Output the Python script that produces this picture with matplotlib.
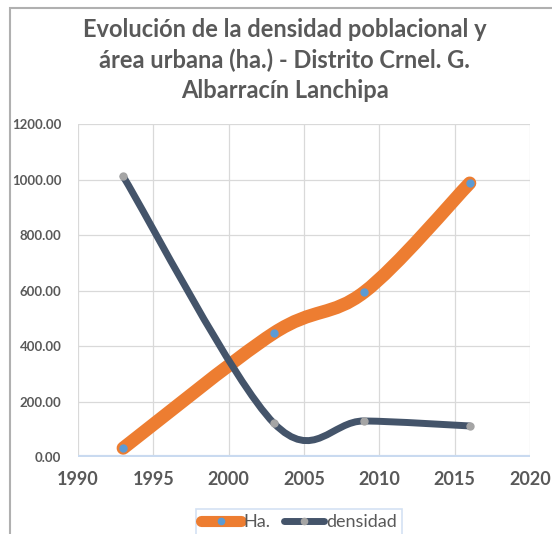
import matplotlib
matplotlib.use("Agg")
import matplotlib.pyplot as plt
from matplotlib.path import Path
from matplotlib.patches import PathPatch, Rectangle
from matplotlib.lines import Line2D
from matplotlib.ticker import FormatStrFormatter

plt.rcParams['font.family'] = ['Lato', 'DejaVu Sans']

years = [1993, 2003, 2009, 2016]
ha = [32, 447, 595, 988]
densidad = [1012, 122, 130, 112]

x_ticks = [1990, 1995, 2000, 2005, 2010, 2015, 2020]
y_ticks = [0, 200, 400, 600, 800, 1000, 1200]

title = "Evolución de la densidad poblacional y\nárea urbana (ha.) - Distrito Crnel. G.\nAlbarracín Lanchipa"

orange = '#ed7d31'
navy = '#44546a'
blue = '#5b9bd5'
grey = '#a5a5a5'
text_grey = '#595959'


def smooth_path(xs, ys):
    # Excel style smoothed line: catmull-rom converted to cubic bezier
    pts = list(zip(xs, ys))
    n = len(pts)
    verts = [pts[0]]
    codes = [Path.MOVETO]
    for i in range(n - 1):
        p0 = pts[max(i - 1, 0)]
        p1 = pts[i]
        p2 = pts[i + 1]
        p3 = pts[min(i + 2, n - 1)]
        c1 = (p1[0] + (p2[0] - p0[0]) / 6, p1[1] + (p2[1] - p0[1]) / 6)
        c2 = (p2[0] - (p3[0] - p1[0]) / 6, p2[1] - (p3[1] - p1[1]) / 6)
        verts += [c1, c2, p2]
        codes += [Path.CURVE4] * 3
    return Path(verts, codes)


fig = plt.figure(figsize=(5.52, 5.34), dpi=100)
ax = fig.add_axes([0.1413, 0.1442, 0.8188, 0.6230])

ax.set_xlim(1990, 2020)
ax.set_ylim(0, 1200)
ax.set_xticks(x_ticks)
ax.set_yticks(y_ticks)
ax.yaxis.set_major_formatter(FormatStrFormatter('%.2f'))
ax.grid(True, color='#d9d9d9', lw=0.9)
ax.set_axisbelow(True)
for s in ax.spines.values():
    s.set_visible(False)
ax.tick_params(length=0)
ax.tick_params(axis='y', pad=12, labelsize=9.5, labelcolor=text_grey)
ax.tick_params(axis='x', pad=10, labelsize=13, labelcolor=text_grey)
for lab in ax.get_xticklabels() + ax.get_yticklabels():
    lab.set_fontweight('bold')
ax.axhline(0, color='#c9daf0', lw=3, zorder=1.5)

ax.add_patch(PathPatch(smooth_path(years, ha), fill=False, edgecolor=orange,
                       lw=9.5, capstyle='round', joinstyle='round', zorder=3, clip_on=False))
ax.add_patch(PathPatch(smooth_path(years, densidad), fill=False, edgecolor=navy,
                       lw=5, capstyle='round', joinstyle='round', zorder=4, clip_on=False))
ax.plot(years, ha, 'o', color=blue, ms=5, zorder=5, clip_on=False)
ax.plot(years, densidad, 'o', color=grey, ms=5, zorder=5, clip_on=False)

handles = [
    Line2D([], [], color=orange, lw=8, solid_capstyle='round', marker='o',
           markerfacecolor=blue, markeredgecolor=blue, markersize=4.5),
    Line2D([], [], color=navy, lw=5, solid_capstyle='round', marker='o',
           markerfacecolor=grey, markeredgecolor=grey, markersize=4.5),
]
leg = fig.legend(handles, ['Ha.', 'densidad'], loc='upper left',
                 bbox_to_anchor=(187 / 552, 1 - 500 / 534), ncol=2,
                 frameon=True, fancybox=False, fontsize=13, handlelength=2.2,
                 handletextpad=0.1, columnspacing=0.8, borderpad=0.3,
                 labelcolor=text_grey)
leg.get_frame().set_edgecolor('#c9daf0')
leg.get_frame().set_linewidth(1.2)

fig.text(0.516, 1 - 18 / 534, title, ha='center', va='top', fontsize=17,
         fontweight='bold', color=text_grey, linespacing=1.38)

fig.patches.append(Rectangle((10 / 552, -0.1), 1.2, 1.1 - 8 / 534,
                             transform=fig.transFigure, fill=False,
                             edgecolor='#b0b0b0', lw=1.5))

fig.savefig('out.png', dpi=100)
